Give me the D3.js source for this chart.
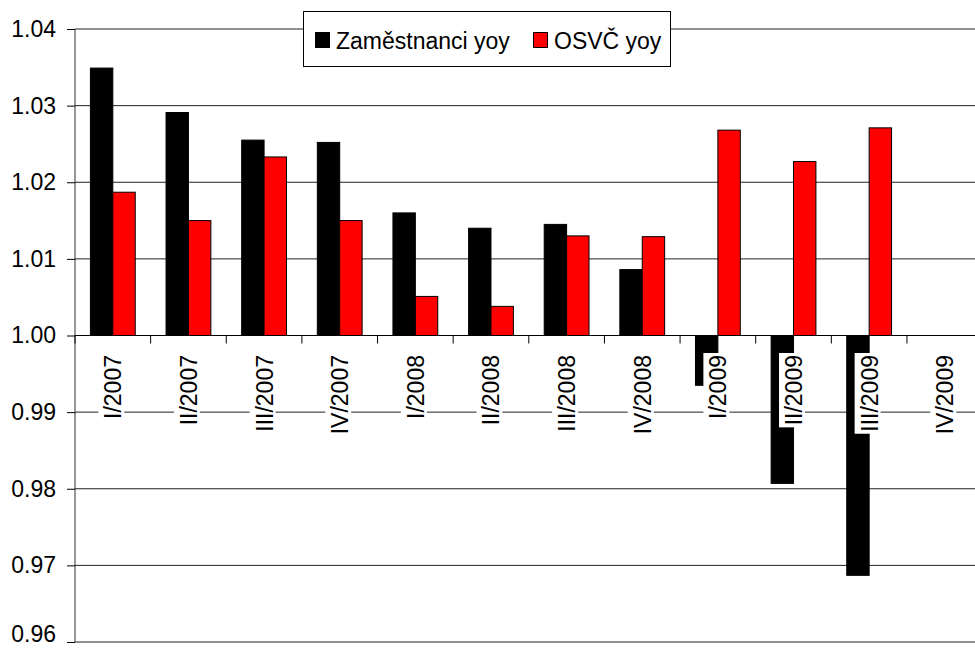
<!DOCTYPE html>
<html>
<head>
<meta charset="utf-8">
<script src="https://cdn.jsdelivr.net/npm/d3@7"></script>
<style>
  html, body { margin: 0; padding: 0; background: #fff; }
  svg { display: block; font-family: "Liberation Sans", Arial, sans-serif; }
</style>
</head>
<body>
<svg id="chart" width="975" height="652"></svg>
<script>
const categories = ["I/2007","II/2007","III/2007","IV/2007","I/2008","II/2008","III/2008","IV/2008","I/2009","II/2009","III/2009","IV/2009"];
const seriesNames = ["Zaměstnanci yoy","OSVČ yoy"];
const zamestnanci = [1.0349, 1.0291, 1.0255, 1.0252, 1.0160, 1.0140, 1.0145, 1.0086, 0.9935, 0.9807, 0.9687, null];
const osvc = [1.0187, 1.0150, 1.0233, 1.0150, 1.0051, 1.0038, 1.0130, 1.0129, 1.0268, 1.0227, 1.0271, null];
const yTicks = [0.96, 0.97, 0.98, 0.99, 1.00, 1.01, 1.02, 1.03, 1.04];
const colors = ["#000000", "#ff0000"];

(function () {
const svg = d3.select("#chart");
const pLeft = 75, pRight = 982.6, pTop = 29, pBottom = 642;
const fontSize = 23;

const x = d3.scaleBand().domain(categories).range([pLeft, pRight]).paddingInner(0).paddingOuter(0);
const x1 = d3.scaleBand().domain(seriesNames).range([0, x.bandwidth()]).paddingInner(0).paddingOuter(0.688);
const y = d3.scaleLinear().domain([0.96, 1.04]).range([pBottom, pTop]);

// gridlines
svg.append("g").selectAll("line").data(yTicks.filter(d => d !== 1.00)).join("line")
  .attr("x1", pLeft).attr("x2", 975)
  .attr("y1", d => y(d)).attr("y2", d => y(d))
  .attr("stroke", "#222").attr("stroke-width", 1);

// bars
const data = [zamestnanci, osvc];
data.forEach((vals, si) => {
  svg.append("g").selectAll("rect").data(categories.map((c, i) => ({c, v: vals[i]})).filter(d => d.v != null)).join("rect")
    .attr("x", d => x(d.c) + x1(seriesNames[si]))
    .attr("width", x1.bandwidth())
    .attr("y", d => Math.min(y(d.v), y(1)))
    .attr("height", d => Math.abs(y(d.v) - y(1)))
    .attr("fill", colors[si])
    .attr("stroke", "#000").attr("stroke-width", 1);
});

// y axis
const yAxis = d3.axisLeft(y).tickValues(yTicks).tickFormat(d3.format(".2f")).tickSize(8).tickPadding(11);
const gy = svg.append("g").attr("transform", `translate(${pLeft},0)`).call(yAxis);
gy.select(".domain").attr("stroke", "#333").attr("d", `M0,${pTop}V${pBottom}`);
gy.selectAll(".tick line").attr("stroke", "#000");
gy.selectAll(".tick text").attr("font-size", fontSize).attr("fill", "#000")
  .attr("font-family", "Liberation Sans, Arial, sans-serif");
// lowest label is lifted so it stays inside the picture
gy.selectAll(".tick").filter(d => d === 0.96).select("text").attr("dy", "0.0em").attr("y", -1);

// x axis line at 1.00 with ticks at category boundaries
svg.append("line").attr("x1", pLeft).attr("x2", 975).attr("y1", y(1)).attr("y2", y(1))
  .attr("stroke", "#000").attr("stroke-width", 1);
svg.append("g").selectAll("line").data(categories).join("line")
  .attr("x1", d => x(d)).attr("x2", d => x(d))
  .attr("y1", y(1)).attr("y2", y(1) + 8)
  .attr("stroke", "#000");

// category labels (rotated) with white background
const lg = svg.append("g");
categories.forEach(c => {
  const cx = x(c) + x.bandwidth() / 2;
  const g = lg.append("g");
  const rect = g.append("rect").attr("fill", "#fff");
  const t = g.append("text")
    .attr("transform", `translate(${cx + 8.5},355) rotate(-90)`)
    .attr("text-anchor", "end")
    .attr("font-size", fontSize)
    .attr("fill", "#000")
    .text(c);
  const len = t.node().getComputedTextLength();
  rect.attr("x", cx - 14.5).attr("width", 26).attr("y", 353).attr("height", len + 4);
});

// legend
const leg = svg.append("g");
leg.append("rect").attr("x", 303.5).attr("y", 11.5).attr("width", 367).attr("height", 55)
  .attr("fill", "#fff").attr("stroke", "#000").attr("stroke-width", 1);
const legItems = [{x: 315, tx: 336}, {x: 533, tx: 554}];
seriesNames.forEach((s, i) => {
  leg.append("rect").attr("x", legItems[i].x + 0.5).attr("y", 32.5).attr("width", 14).attr("height", 15)
    .attr("fill", colors[i]).attr("stroke", "#000").attr("stroke-width", 1);
  leg.append("text").attr("x", legItems[i].tx).attr("y", 48.5)
    .attr("font-size", fontSize).attr("fill", "#000").text(s);
});
})();
</script>
</body>
</html>
